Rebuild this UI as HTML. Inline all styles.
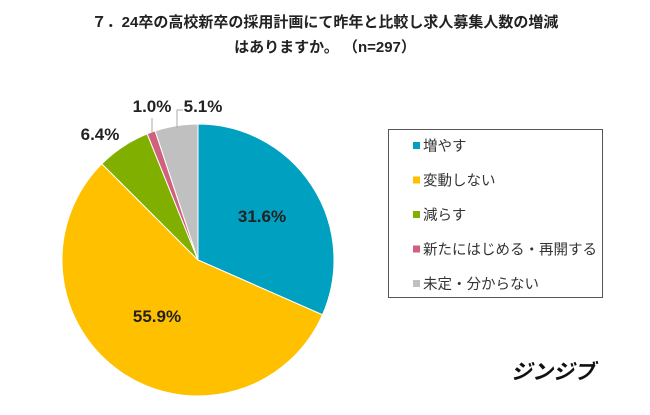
<!DOCTYPE html>
<html><head><meta charset="utf-8"><style>
body{margin:0;background:#fff;width:650px;height:410px;overflow:hidden;font-family:"Liberation Sans","Noto Sans CJK JP",sans-serif}
</style></head><body>
<svg width="650" height="410" xmlns="http://www.w3.org/2000/svg" font-family="Liberation Sans, Noto Sans CJK JP, sans-serif">
<text x="325" y="27" text-anchor="middle" font-size="15" font-weight="bold" fill="#222">７．24卒の高校新卒の採用計画にて昨年と比較し求人募集人数の増減</text>
<text x="325" y="52" text-anchor="middle" font-size="15" font-weight="bold" fill="#222">はありますか。 （n=297）</text>
<g id="slices"></g>
<g id="labels"></g>
<line x1="152" y1="118" x2="152" y2="133" stroke="#aaa"/>
<polyline points="177,128 177,110 183,110" fill="none" stroke="#aaa"/>
<rect x="388.5" y="129.5" width="214" height="168" fill="#fff" stroke="#555"/>
<g id="legend"></g>
<text x="553" y="379" text-anchor="middle" font-size="21" font-weight="bold" font-style="italic" fill="#111">ジンジブ</text>
</svg>
<script>
const categories=["増やす","変動しない","減らす","新たにはじめる・再開する","未定・分からない"];
const values=[31.6,55.9,6.4,1.0,5.1];
const colors=["#00a0c0","#ffc000","#80af00","#d0607e","#c0c0c0"];
const labelPos=[[262,222],[157,322],[100,140],[152,112],[203,112]];
const NS="http://www.w3.org/2000/svg";
const cx=198,cy=260,r=136;
const total=values.reduce((a,b)=>a+b,0);
const sg=document.getElementById('slices'),lg=document.getElementById('labels'),leg=document.getElementById('legend');
let a=0;
values.forEach((v,i)=>{
  const a0=a,a1=a+v/total*2*Math.PI;a=a1;
  const x0=cx+r*Math.sin(a0),y0=cy-r*Math.cos(a0),x1=cx+r*Math.sin(a1),y1=cy-r*Math.cos(a1);
  const p=document.createElementNS(NS,'path');
  p.setAttribute('d',`M${cx},${cy}L${x0},${y0}A${r},${r} 0 ${a1-a0>Math.PI?1:0} 1 ${x1},${y1}Z`);
  p.setAttribute('fill',colors[i]);p.setAttribute('stroke','#fff');p.setAttribute('stroke-width','1');
  
  
  sg.appendChild(p);
  const t=document.createElementNS(NS,'text');
  t.setAttribute('x',labelPos[i][0]);t.setAttribute('y',labelPos[i][1]);
  t.setAttribute('text-anchor','middle');t.setAttribute('font-size','17');t.setAttribute('font-weight','bold');t.setAttribute('fill','#222');
  t.textContent=v.toFixed(1)+'%';
  
  
  lg.appendChild(t);
  const y=146+i*34.5;
  const s=document.createElementNS(NS,'rect');
  s.setAttribute('x',413);s.setAttribute('y',y-4);s.setAttribute('width',7);s.setAttribute('height',7);s.setAttribute('fill',colors[i]);
  
  
  leg.appendChild(s);
  const lt=document.createElementNS(NS,'text');
  lt.setAttribute('x',423);lt.setAttribute('y',y+5);lt.setAttribute('font-size','14.5');lt.setAttribute('fill','#333');
  lt.textContent=categories[i];
  
  
  leg.appendChild(lt);
});
</script>
</body></html>
